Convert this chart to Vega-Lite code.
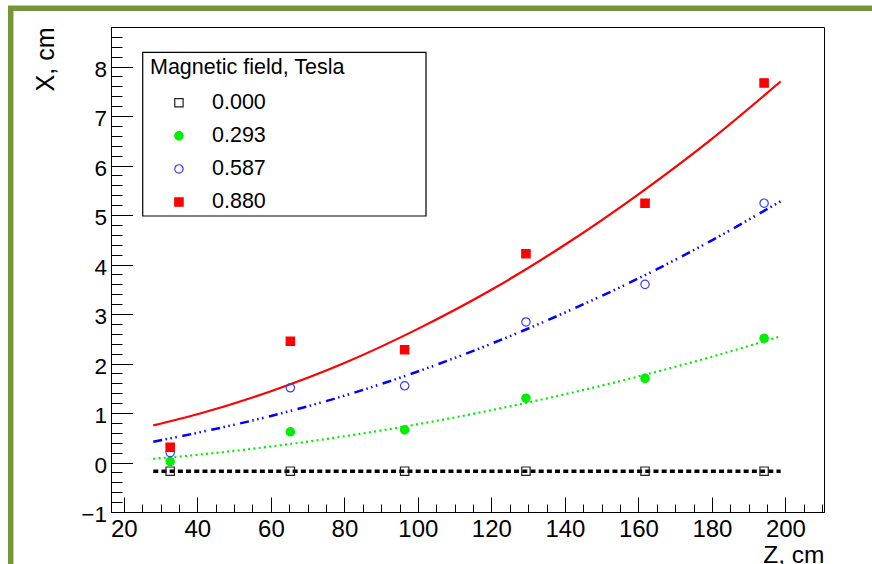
{
  "$schema": "https://vega.github.io/schema/vega-lite/v6.json",
  "width": 713,
  "height": 485,
  "autosize": {"type": "none"},
  "padding": {"left": 111, "top": 27, "right": 48, "bottom": 52},
  "background": "white",
  "datasets": {
    "points": [
      {"B": "0.000", "z": 32.6, "x": -0.175},
      {"B": "0.000", "z": 65.3, "x": -0.175},
      {"B": "0.000", "z": 96.4, "x": -0.175},
      {"B": "0.000", "z": 129.4, "x": -0.175},
      {"B": "0.000", "z": 161.8, "x": -0.175},
      {"B": "0.000", "z": 194.2, "x": -0.175},
      {"B": "0.293", "z": 32.6, "x": 0.02},
      {"B": "0.293", "z": 65.3, "x": 0.62},
      {"B": "0.293", "z": 96.4, "x": 0.66},
      {"B": "0.293", "z": 129.4, "x": 1.30},
      {"B": "0.293", "z": 161.8, "x": 1.70},
      {"B": "0.293", "z": 194.2, "x": 2.51},
      {"B": "0.587", "z": 32.6, "x": 0.20},
      {"B": "0.587", "z": 65.3, "x": 1.51},
      {"B": "0.587", "z": 96.4, "x": 1.55},
      {"B": "0.587", "z": 129.4, "x": 2.84},
      {"B": "0.587", "z": 161.8, "x": 3.60},
      {"B": "0.587", "z": 194.2, "x": 5.24},
      {"B": "0.880", "z": 32.6, "x": 0.31},
      {"B": "0.880", "z": 65.3, "x": 2.45},
      {"B": "0.880", "z": 96.4, "x": 2.28},
      {"B": "0.880", "z": 129.4, "x": 4.22},
      {"B": "0.880", "z": 161.8, "x": 5.24},
      {"B": "0.880", "z": 194.2, "x": 7.67}
    ],
    "fits": [
      {"B": "0.000", "z": 28, "x": -0.175},
      {"B": "0.000", "z": 198.7, "x": -0.175},
      {"B": "0.293", "z": 28, "x": 0.074},
      {"B": "0.293", "z": 40, "x": 0.156},
      {"B": "0.293", "z": 60, "x": 0.324},
      {"B": "0.293", "z": 80, "x": 0.53},
      {"B": "0.293", "z": 100, "x": 0.774},
      {"B": "0.293", "z": 120, "x": 1.058},
      {"B": "0.293", "z": 140, "x": 1.379},
      {"B": "0.293", "z": 160, "x": 1.739},
      {"B": "0.293", "z": 180, "x": 2.138},
      {"B": "0.293", "z": 198.7, "x": 2.55},
      {"B": "0.587", "z": 28, "x": 0.42},
      {"B": "0.587", "z": 40, "x": 0.60},
      {"B": "0.587", "z": 60, "x": 0.94},
      {"B": "0.587", "z": 80, "x": 1.35},
      {"B": "0.587", "z": 100, "x": 1.84},
      {"B": "0.587", "z": 120, "x": 2.40},
      {"B": "0.587", "z": 140, "x": 3.03},
      {"B": "0.587", "z": 160, "x": 3.72},
      {"B": "0.587", "z": 180, "x": 4.49},
      {"B": "0.587", "z": 198.7, "x": 5.28},
      {"B": "0.880", "z": 28, "x": 0.75},
      {"B": "0.880", "z": 40, "x": 0.975},
      {"B": "0.880", "z": 60, "x": 1.44},
      {"B": "0.880", "z": 80, "x": 2.01},
      {"B": "0.880", "z": 100, "x": 2.70},
      {"B": "0.880", "z": 120, "x": 3.49},
      {"B": "0.880", "z": 140, "x": 4.40},
      {"B": "0.880", "z": 160, "x": 5.42},
      {"B": "0.880", "z": 180, "x": 6.54},
      {"B": "0.880", "z": 198.7, "x": 7.70}
    ]
  },
  "config": {
    "view": {"stroke": "#000", "strokeWidth": 1},
    "font": "Liberation Sans",
    "axis": {
      "grid": false,
      "domainColor": "#000",
      "tickColor": "#000",
      "tickWidth": 1,
      "labelColor": "#000",
      "labelFont": "Liberation Sans",
      "titleFont": "Liberation Sans",
      "titleColor": "#000",
      "titleFontWeight": "normal",
      "labelOverlap": false,
      "labelFlush": false,
      "labelBound": false
    },
    "legend": {
      "titleFont": "Liberation Sans",
      "titleFontSize": 21.5,
      "titleFontWeight": "normal",
      "titleColor": "#000",
      "titleLimit": 500,
      "labelFont": "Liberation Sans",
      "labelFontSize": 21.5,
      "labelColor": "#000",
      "padding": 6,
      "symbolOffset": 18.2,
      "labelOffset": 22.3,
      "rowPadding": 10.1,
      "titlePadding": 13.5,
      "symbolSize": 70,
      "symbolStrokeWidth": 1.2
    }
  },
  "layer": [
    {
      "data": {"values": [{"frame": "outer"}]},
      "mark": {"type": "rect", "fillOpacity": 0, "stroke": "#77933c", "strokeWidth": 5.5, "clip": false},
      "encoding": {
        "x": {
          "datum": -10.79, "type": "quantitative",
          "scale": {"domain": [16.5, 210.5], "nice": false, "zero": false},
          "axis": {
            "title": "Z, cm", "titleFontSize": 24.5, "titleX": 713, "titleY": 50.7, "titleAlign": "right", "titleBaseline": "alphabetic", "titleAngle": 0,
            "values": [20, 25, 30, 35, 40, 45, 50, 55, 60, 65, 70, 75, 80, 85, 90, 95, 100, 105, 110, 115, 120, 125, 130, 135, 140, 145, 150, 155, 160, 165, 170, 175, 180, 185, 190, 195, 200, 205, 210],
            "tickSize": {"condition": {"test": "datum.value % 20 === 0", "value": -15}, "value": -8},
            "labelExpr": "datum.value % 20 === 0 ? format(datum.value, 'd') : ''",
            "labelFontSize": 24, "labelPadding": 20.5
          }
        },
        "x2": {"datum": 400},
        "y": {
          "datum": 9.18, "type": "quantitative",
          "scale": {"domain": [-1, 8.8], "nice": false, "zero": false},
          "axis": {
            "title": "X, cm", "titleFontSize": 25, "titleX": -58, "titleY": 0, "titleAngle": 270, "titleAlign": "right", "titleBaseline": "alphabetic",
            "values": [-1, -0.8, -0.6, -0.4, -0.2, 0, 0.2, 0.4, 0.6, 0.8, 1, 1.2, 1.4, 1.6, 1.8, 2, 2.2, 2.4, 2.6, 2.8, 3, 3.2, 3.4, 3.6, 3.8, 4, 4.2, 4.4, 4.6, 4.8, 5, 5.2, 5.4, 5.6, 5.8, 6, 6.2, 6.4, 6.6, 6.8, 7, 7.2, 7.4, 7.6, 7.8, 8, 8.2, 8.4, 8.6],
            "tickSize": {"condition": {"test": "abs(datum.value - round(datum.value)) < 0.01", "value": -21.5}, "value": -11},
            "labelExpr": "abs(datum.value - round(datum.value)) < 0.01 ? format(round(datum.value), 'd') : ''",
            "labelFontSize": 22.5, "labelPadding": 26, "labelOffset": 2.5
          }
        },
        "y2": {"datum": -8}
      }
    },
    {
      "data": {"values": [{"frame": "legend"}]},
      "mark": {"type": "rect", "fill": "white", "stroke": "#000", "strokeWidth": 1.2},
      "encoding": {
        "x": {
          "datum": 25.13, "type": "quantitative",
          "scale": {"domain": [16.5, 210.5], "nice": false, "zero": false},
          "axis": {
            "title": "Z, cm", "titleFontSize": 24.5, "titleX": 713, "titleY": 50.7, "titleAlign": "right", "titleBaseline": "alphabetic", "titleAngle": 0,
            "values": [20, 25, 30, 35, 40, 45, 50, 55, 60, 65, 70, 75, 80, 85, 90, 95, 100, 105, 110, 115, 120, 125, 130, 135, 140, 145, 150, 155, 160, 165, 170, 175, 180, 185, 190, 195, 200, 205, 210],
            "tickSize": {"condition": {"test": "datum.value % 20 === 0", "value": -15}, "value": -8},
            "labelExpr": "datum.value % 20 === 0 ? format(datum.value, 'd') : ''",
            "labelFontSize": 24, "labelPadding": 20.5
          }
        },
        "x2": {"datum": 102.21},
        "y": {
          "datum": 8.289, "type": "quantitative",
          "scale": {"domain": [-1, 8.8], "nice": false, "zero": false},
          "axis": {
            "title": "X, cm", "titleFontSize": 25, "titleX": -58, "titleY": 0, "titleAngle": 270, "titleAlign": "right", "titleBaseline": "alphabetic",
            "values": [-1, -0.8, -0.6, -0.4, -0.2, 0, 0.2, 0.4, 0.6, 0.8, 1, 1.2, 1.4, 1.6, 1.8, 2, 2.2, 2.4, 2.6, 2.8, 3, 3.2, 3.4, 3.6, 3.8, 4, 4.2, 4.4, 4.6, 4.8, 5, 5.2, 5.4, 5.6, 5.8, 6, 6.2, 6.4, 6.6, 6.8, 7, 7.2, 7.4, 7.6, 7.8, 8, 8.2, 8.4, 8.6],
            "tickSize": {"condition": {"test": "abs(datum.value - round(datum.value)) < 0.01", "value": -21.5}, "value": -11},
            "labelExpr": "abs(datum.value - round(datum.value)) < 0.01 ? format(round(datum.value), 'd') : ''",
            "labelFontSize": 22.5, "labelPadding": 26, "labelOffset": 2.5
          }
        },
        "y2": {"datum": 4.981}
      }
    },
    {
      "encoding": {
        "x": {
          "field": "z", "type": "quantitative",
          "scale": {"domain": [16.5, 210.5], "nice": false, "zero": false},
          "axis": {
            "title": "Z, cm", "titleFontSize": 24.5, "titleX": 713, "titleY": 50.7, "titleAlign": "right", "titleBaseline": "alphabetic", "titleAngle": 0,
            "values": [20, 25, 30, 35, 40, 45, 50, 55, 60, 65, 70, 75, 80, 85, 90, 95, 100, 105, 110, 115, 120, 125, 130, 135, 140, 145, 150, 155, 160, 165, 170, 175, 180, 185, 190, 195, 200, 205, 210],
            "tickSize": {"condition": {"test": "datum.value % 20 === 0", "value": -15}, "value": -8},
            "labelExpr": "datum.value % 20 === 0 ? format(datum.value, 'd') : ''",
            "labelFontSize": 24, "labelPadding": 20.5
          }
        },
        "y": {
          "field": "x", "type": "quantitative",
          "scale": {"domain": [-1, 8.8], "nice": false, "zero": false},
          "axis": {
            "title": "X, cm", "titleFontSize": 25, "titleX": -58, "titleY": 0, "titleAngle": 270, "titleAlign": "right", "titleBaseline": "alphabetic",
            "values": [-1, -0.8, -0.6, -0.4, -0.2, 0, 0.2, 0.4, 0.6, 0.8, 1, 1.2, 1.4, 1.6, 1.8, 2, 2.2, 2.4, 2.6, 2.8, 3, 3.2, 3.4, 3.6, 3.8, 4, 4.2, 4.4, 4.6, 4.8, 5, 5.2, 5.4, 5.6, 5.8, 6, 6.2, 6.4, 6.6, 6.8, 7, 7.2, 7.4, 7.6, 7.8, 8, 8.2, 8.4, 8.6],
            "tickSize": {"condition": {"test": "abs(datum.value - round(datum.value)) < 0.01", "value": -21.5}, "value": -11},
            "labelExpr": "abs(datum.value - round(datum.value)) < 0.01 ? format(round(datum.value), 'd') : ''",
            "labelFontSize": 22.5, "labelPadding": 26, "labelOffset": 2.5
          }
        }
      },
      "layer": [
        {
          "data": {"name": "fits"},
          "transform": [{"filter": "datum.B === '0.000'"}],
          "mark": {"type": "line", "color": "#000", "strokeWidth": 3.5, "strokeDash": [5, 3.2], "strokeCap": "butt"}
        },
        {
          "data": {"name": "fits"},
          "transform": [{"filter": "datum.B === '0.293'"}],
          "mark": {"type": "line", "color": "#00ee00", "strokeWidth": 2.2, "strokeDash": [2, 3.3], "interpolate": "monotone"}
        },
        {
          "data": {"name": "fits"},
          "transform": [{"filter": "datum.B === '0.587'"}],
          "mark": {"type": "line", "color": "#0000ff", "strokeWidth": 2.5, "strokeDash": [9, 3.5, 1.5, 3.5, 1.5, 3.5, 1.5, 5.6], "interpolate": "monotone"}
        },
        {
          "data": {"name": "fits"},
          "transform": [{"filter": "datum.B === '0.880'"}],
          "mark": {"type": "line", "color": "#ff0000", "strokeWidth": 2.2, "interpolate": "monotone"}
        },
        {
          "data": {"name": "points"},
          "mark": {"type": "point", "size": 70, "strokeWidth": 1.2, "opacity": 1, "fillOpacity": 1},
          "encoding": {
            "shape": {
              "field": "B", "type": "nominal",
              "scale": {"domain": ["0.000", "0.293", "0.587", "0.880"], "range": ["square", "circle", "circle", "square"]},
              "legend": {"title": "Magnetic field, Tesla", "orient": "none", "legendX": 33, "legendY": 24}
            },
            "fill": {
              "field": "B", "type": "nominal",
              "scale": {"domain": ["0.000", "0.293", "0.587", "0.880"], "range": ["transparent", "#00ee00", "transparent", "#ff0000"]},
              "legend": {"title": "Magnetic field, Tesla", "orient": "none", "legendX": 33, "legendY": 24}
            },
            "stroke": {
              "field": "B", "type": "nominal",
              "scale": {"domain": ["0.000", "0.293", "0.587", "0.880"], "range": ["#222222", "#00ee00", "#3b3bff", "#ff0000"]},
              "legend": {"title": "Magnetic field, Tesla", "orient": "none", "legendX": 33, "legendY": 24}
            }
          }
        }
      ]
    }
  ]
}
